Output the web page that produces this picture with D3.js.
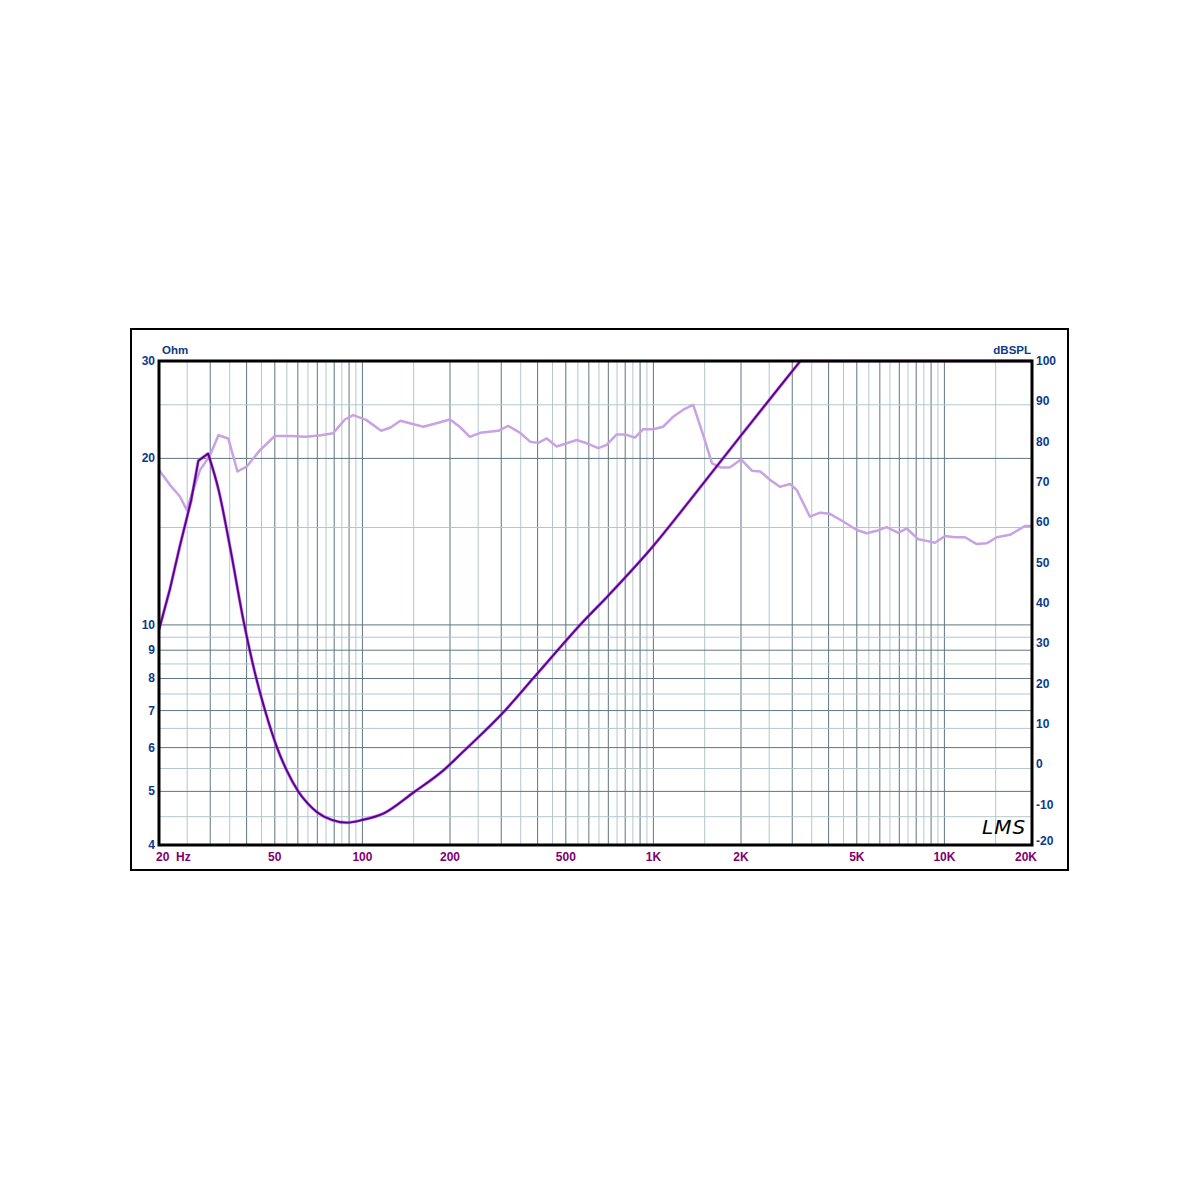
<!DOCTYPE html>
<html><head><meta charset="utf-8">
<script src="https://cdn.jsdelivr.net/npm/d3@7/dist/d3.min.js"></script>
<style>body{margin:0;background:#fff}svg{display:block}</style>
</head><body>
<svg id="c" width="1200" height="1200"></svg>
<script>
// ---- data ----
const impFreq = [20,21.8,23.6,25.8,27.3,29.5,32,35.2,39,42.7,46.3,50.9,55,60.2,65,69.7,78.5,88.3,100,118,150,190,222,309,386,469,560,700,1000,1336,2000,2833,3200,5000,10000,20000];
const impOhm  = [9.8,11.6,13.9,16.8,19.8,20.4,17.6,13.7,10.2,8.2,7.0,6.0,5.45,5.0,4.75,4.59,4.44,4.39,4.44,4.56,4.98,5.46,5.9,7.0,8.0,9.0,10.0,11.3,13.9,16.8,22.0,27.7,30,30,30,30];

const splFreq = [20,21.8,23.6,24.9,26.2,27.7,29.9,32,34.6,37.2,40,44.5,50,57,64,72,79.4,87,93,103,116,125,135,150,162,185,200,216,234,254,293,317,348,377,402,430,465,504,545,590,647,691,748,799,864,923,1000,1080,1170,1270,1370,1470,1590,1700,1830,2000,2180,2330,2520,2720,2950,3110,3450,3740,4040,4490,5000,5410,5850,6330,6940,7420,8130,8690,9280,10050,10870,11770,12910,13980,15130,16810,18920,20000];
const splDb   = [73,69.3,66.4,63.1,68,73,76.5,81.6,80.8,72.6,73.8,77.9,81.4,81.4,81.2,81.6,82.1,85.5,86.6,85.4,82.7,83.5,85.2,84.3,83.7,84.8,85.5,83.7,81.2,82.2,82.7,83.9,82.2,80,79.7,80.8,78.8,79.6,80.4,79.6,78.4,79.2,81.8,81.8,81.0,83.1,83.1,83.7,86.2,88.0,89.1,82.5,74.6,73.6,73.6,75.6,72.8,72.6,70.5,68.8,69.5,68.0,61.4,62.4,62.1,60.2,58.1,57.3,57.9,58.8,57.4,58.5,55.8,55.4,54.95,56.6,56.3,56.3,54.6,54.8,56.3,56.9,59.1,59.1];

const leftTicks = [30,20,10,9,8,7,6,5,4];
const rightTicks = [-20,-10,0,10,20,30,40,50,60,70,80,90,100];
const freqTicks = [20,50,100,200,500,1000,2000,5000,10000,20000];
const freqTickLabels = ["20  Hz","50","100","200","500","1K","2K","5K","10K","20K"];
const ohmGrid = [4.5,5,5.5,6,6.5,7,7.5,8,8.5,9,9.5,10,15,20,25];
const ohmGridDark = [5,6,7,8,9,10,20];
const freqGrid = [].concat(d3.range(25,100,5), d3.range(100,1000,50), d3.range(1000,10000,500), [10000,15000]);
const freqGridDark = new Set([].concat(d3.range(30,100,10), d3.range(100,1000,100), d3.range(1000,10000,1000), [10000]));

// ---- layout ----
const L=159,R=1032,T=361,B=845;
const svg=d3.select("#c");
const x=d3.scaleLog().domain([20,20000]).range([L,R]);
const yL=d3.scaleLog().domain([4,30]).range([B,T]).clamp(true);
const yR=d3.scaleLinear().domain([-20,100]).range([B,T]);

// outer frame
svg.append("rect").attr("x",131).attr("y",329).attr("width",937).attr("height",541)
  .attr("fill","#fff").attr("stroke","#000").attr("stroke-width",2);

const g=svg.append("g");
g.selectAll("line.vg").data(freqGrid).join("line")
  .attr("x1",d=>x(d)).attr("x2",d=>x(d)).attr("y1",T).attr("y2",B)
  .attr("stroke",d=>freqGridDark.has(d)?"#5f7683":"#b3c7cc").attr("stroke-width",1);
g.selectAll("line.hg").data(ohmGrid).join("line")
  .attr("x1",L).attr("x2",R).attr("y1",d=>yL(d)).attr("y2",d=>yL(d))
  .attr("stroke",d=>ohmGridDark.includes(d)?"#5f7683":"#b3c7cc").attr("stroke-width",1);

// SPL line
svg.append("path").datum(splFreq.map((f,i)=>[f,splDb[i]]))
  .attr("fill","none").attr("stroke","#c8a2e2").attr("stroke-width",2.5).attr("stroke-linejoin","round")
  .attr("d",d3.line().x(d=>x(d[0])).y(d=>yR(d[1])));

// impedance line: straight up to the peak, smooth through the dip and rise, straight into the top edge
const impData=impFreq.map((f,i)=>[f,impOhm[i]]);
const peakIdx=impOhm.indexOf(d3.max(impOhm.slice(0,10)));
const riseIdx=impFreq.indexOf(2000);
const linA=d3.line().x(d=>x(d[0])).y(d=>yL(d[1]));
const linB=d3.line().x(d=>x(d[0])).y(d=>yL(d[1])).curve(d3.curveMonotoneX);
const strip=s=>s.replace(/^M[^CL]*/,"");
const impPath=linA(impData.slice(0,peakIdx+1))
  +strip(linB(impData.slice(peakIdx,riseIdx+1)))
  +strip(linA(impData.slice(riseIdx)));
svg.append("path").attr("fill","none").attr("stroke","#b040d8").attr("stroke-width",3.2).attr("stroke-opacity",0.65).attr("stroke-linejoin","round").attr("d",impPath);
svg.append("path").attr("fill","none").attr("stroke","#56048f").attr("stroke-width",1.9).attr("stroke-linejoin","round").attr("d",impPath);

// plot frame
svg.append("rect").attr("x",L).attr("y",T).attr("width",R-L).attr("height",B-T)
  .attr("fill","none").attr("stroke","#000").attr("stroke-width",3);

const font="'Liberation Sans', Arial, sans-serif";
svg.selectAll("text.l").data(leftTicks).join("text")
  .attr("x",155).attr("y",d=>yL(d)+4).attr("text-anchor","end")
  .attr("font-family",font).attr("font-weight","bold").attr("font-size",12).attr("fill","#0b3a88").text(d=>d);
svg.append("text").attr("x",162).attr("y",354).attr("font-family",font).attr("font-weight","bold")
  .attr("font-size",11.5).attr("fill","#0b3a88").text("Ohm");
svg.selectAll("text.r").data(rightTicks).join("text")
  .attr("x",1036).attr("y",d=>yR(d)+(d===-20?0:4))
  .attr("font-family",font).attr("font-weight","bold").attr("font-size",12).attr("fill","#0b3a88").text(d=>d);
svg.append("text").attr("x",1031).attr("y",354).attr("text-anchor","end").attr("font-family",font).attr("font-weight","bold")
  .attr("font-size",11.5).attr("fill","#0b3a88").text("dBSPL");
svg.selectAll("text.b").data(freqTicks).join("text")
  .attr("x",(d,i)=>i===0?156:(i===freqTicks.length-1?x(d)-6:x(d)))
  .attr("y",861).attr("text-anchor",(d,i)=>i===0?"start":"middle")
  .attr("font-family",font).attr("font-weight","bold").attr("font-size",12).attr("fill","#800070")
  .style("white-space","pre")
  .text((d,i)=>freqTickLabels[i]);

// LMS logo
svg.append("text").attr("x",982).attr("y",834).attr("font-family","'DejaVu Sans', sans-serif")
  .attr("font-style","italic").attr("font-size",20).attr("fill","#000").attr("letter-spacing",1).text("LMS");
</script>
</body></html>
